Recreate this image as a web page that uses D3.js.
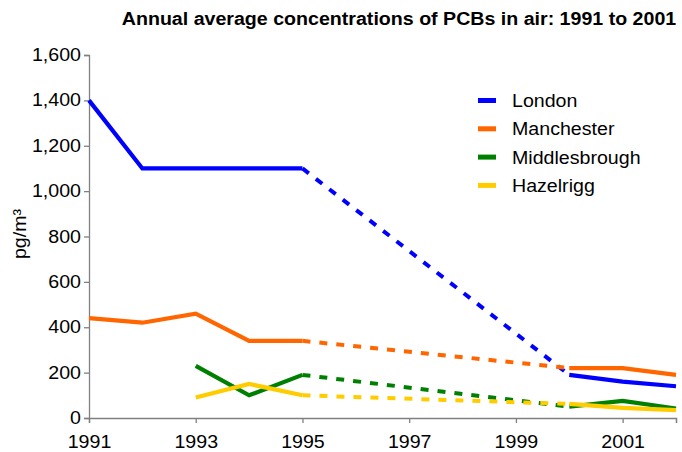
<!DOCTYPE html>
<html>
<head>
<meta charset="utf-8">
<script src="https://cdn.jsdelivr.net/npm/d3@7"></script>
<style>
  body { margin: 0; background: #fff; }
  text { font-family: "Liberation Sans", Arial, sans-serif; }
</style>
</head>
<body>
<div id="chart"></div>
<script>
// data
var years = [1991, 1992, 1993, 1994, 1995, 1996, 1997, 1998, 1999, 2000, 2001, 2002];
var london = [1400, 1100, 1100, 1100, 1100, null, null, null, null, 190, 160, 140];
var manchester = [440, 420, 460, 340, 340, null, null, null, null, 220, 220, 190];
var middlesbrough = [null, null, 230, 100, 190, null, null, null, null, 50, 75, 42];
var hazelrigg = [null, null, 90, 150, 100, null, null, null, null, 62, 45, 35];
var seriesNames = ["London", "Manchester", "Middlesbrough", "Hazelrigg"];
var seriesColors = ["#0000ff", "#ff6600", "#008000", "#ffcc00"];
var xTicks = [1991, 1993, 1995, 1997, 1999, 2001, 2002];
var yTicks = [0, 200, 400, 600, 800, 1000, 1200, 1400, 1600];
var gapStart = 1995, gapEnd = 2000;

var svgWidth = 682, svgHeight = 452;
var margin = { top: 55, right: 6, bottom: 34, left: 89 };
var width = svgWidth - margin.left - margin.right;
var height = svgHeight - margin.top - margin.bottom;

// text in the source is a bit wider than plain Arial
var stretch = 1.12;
function widen(sel) {
    sel.each(function () {
        var w = this.getComputedTextLength();
        if (w > 0) {
            d3.select(this)
                .attr("textLength", w * stretch)
                .attr("lengthAdjust", "spacingAndGlyphs");
        }
    });
}

var svg = d3.select("#chart").append("svg")
    .attr("width", svgWidth)
    .attr("height", svgHeight);

var g = svg.append("g")
    .attr("transform", "translate(" + margin.left + "," + margin.top + ")");

var x = d3.scaleLinear().domain([1991, 2002]).range([0, width]);
var y = d3.scaleLinear().domain([0, 1600]).range([height, 0]);

// title
svg.append("text")
    .attr("x", 399)
    .attr("y", 25)
    .attr("text-anchor", "middle")
    .attr("font-size", 17.5)
    .attr("font-weight", "bold")
    .text("Annual average concentrations of PCBs in air: 1991 to 2001")
    .call(widen);

// y axis
var yAxis = g.append("g")
    .call(d3.axisLeft(y).tickValues(yTicks).tickSize(5).tickPadding(3).tickFormat(d3.format(",")));
yAxis.selectAll("text").attr("font-size", 17.5).attr("fill", "#000")
    .style("font-family", "Liberation Sans, Arial, sans-serif").call(widen);

// x axis
var xAxis = g.append("g")
    .attr("transform", "translate(0," + height + ")")
    .call(d3.axisBottom(x).tickValues(xTicks).tickSize(5).tickPadding(13)
        .tickFormat(function (d) { return d === 2002 ? "" : d; }));
xAxis.selectAll("text").attr("font-size", 17.5).attr("fill", "#000")
    .style("font-family", "Liberation Sans, Arial, sans-serif").call(widen);

[yAxis, xAxis].forEach(function (a) {
    a.select(".domain").attr("stroke", "#808080").attr("stroke-width", 1.3);
    a.selectAll(".tick line").attr("stroke", "#808080").attr("stroke-width", 1.3);
});

// y axis label
svg.append("text")
    .attr("transform", "translate(26,234) rotate(-90)")
    .attr("text-anchor", "middle")
    .attr("font-size", 17.5)
    .text("pg/m\u00b3")
    .call(widen);

var allSeries = [london, manchester, middlesbrough, hazelrigg];

var line = d3.line()
    .defined(function (d) { return d.v !== null; })
    .x(function (d) { return x(d.year); })
    .y(function (d) { return y(d.v); });

allSeries.forEach(function (vals, i) {
    var pts = years.map(function (yr, j) { return { year: yr, v: vals[j] }; });
    var gap = pts.filter(function (d) { return d.year === gapStart || d.year === gapEnd; });

    g.append("path")
        .datum(gap)
        .attr("fill", "none")
        .attr("stroke", seriesColors[i])
        .attr("stroke-width", 4)
        .attr("stroke-dasharray", "8,9")
        .attr("d", line);

    g.append("path")
        .datum(pts)
        .attr("fill", "none")
        .attr("stroke", seriesColors[i])
        .attr("stroke-width", 4.2)
        .attr("stroke-linejoin", "miter")
        .attr("d", line);
});

// legend
var legend = svg.append("g").attr("transform", "translate(478,100)");
seriesNames.forEach(function (name, i) {
    var row = legend.append("g").attr("transform", "translate(0," + (i * 28.3) + ")");
    row.append("rect")
        .attr("x", 0).attr("y", -2)
        .attr("width", 18).attr("height", 5)
        .attr("fill", seriesColors[i]);
    row.append("text")
        .attr("x", 34).attr("y", 7)
        .attr("font-size", 17.5)
        .text(name)
        .call(widen);
});
</script>
</body>
</html>
